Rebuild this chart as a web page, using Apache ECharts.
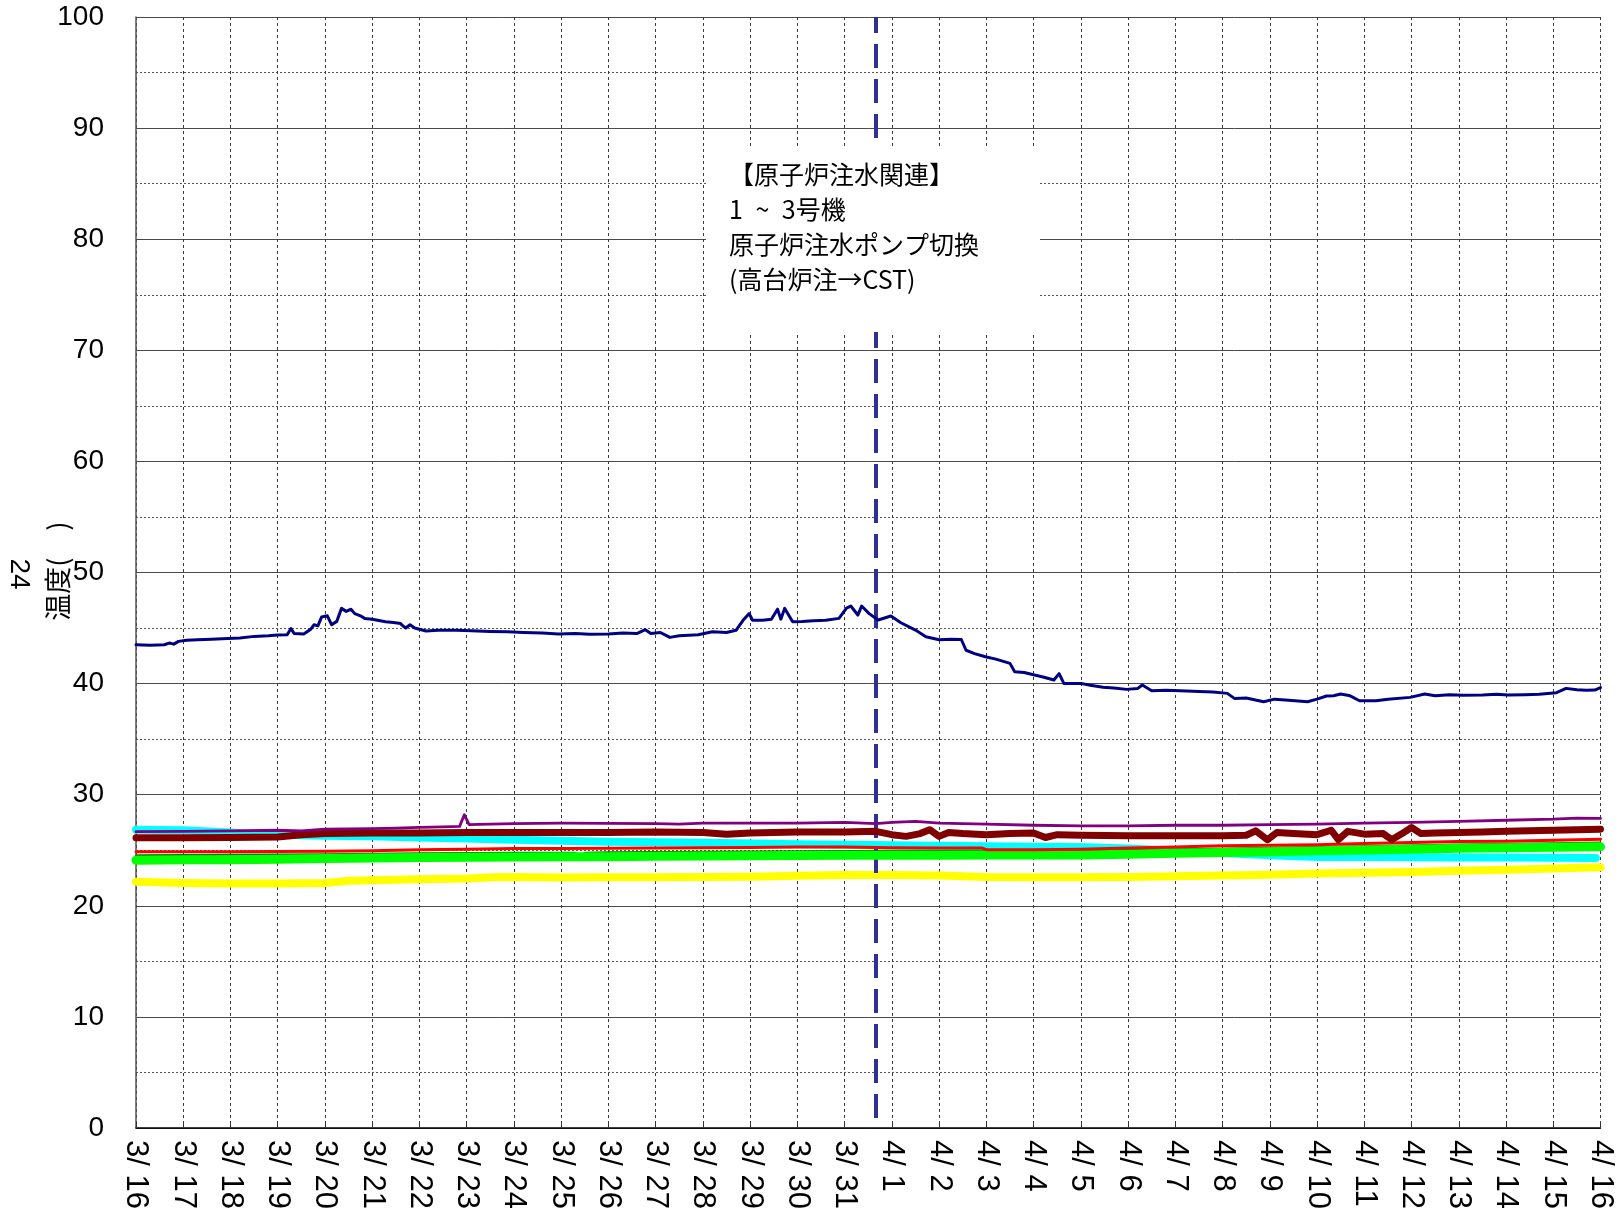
<!DOCTYPE html>
<html>
<head>
<meta charset="utf-8">
<script src="https://cdn.jsdelivr.net/npm/echarts@6/dist/echarts.min.js"></script>
<style>
html,body{margin:0;padding:0;background:#fff;}
#chart{width:1616px;height:1212px;}
</style>
</head>
<body>
<div id="chart"></div>
<script>
// x positions are days after 3/16 (0 = 3/16, 31 = 4/16)
const xTickLabels = ["3/ 16","3/ 17","3/ 18","3/ 19","3/ 20","3/ 21","3/ 22","3/ 23","3/ 24","3/ 25","3/ 26","3/ 27","3/ 28","3/ 29","3/ 30","3/ 31","4/ 1","4/ 2","4/ 3","4/ 4","4/ 5","4/ 6","4/ 7","4/ 8","4/ 9","4/ 10","4/ 11","4/ 12","4/ 13","4/ 14","4/ 15","4/ 16"];
const yMin = 0, yMax = 100, yStep = 10;

const eventDay = 15.66;
const eventLineBottom = 0.9;
const annotationLines = ["【原子炉注水関連】", "1\u2002~\u20023号機", "原子炉注水ポンプ切換", "(高台炉注→CST)"];
const yTitle = "温度(　)";
const yTitleExtra = "24";

const navySeries = [[0,43.5],[0.3,43.45],[0.6,43.5],[0.7,43.65],[0.8,43.55],[0.9,43.8],[1.07,43.9],[1.3,43.95],[1.6,44.0],[1.94,44.07],[2.2,44.1],[2.5,44.25],[2.8,44.3],[3.0,44.37],[3.2,44.4],[3.28,44.95],[3.35,44.5],[3.55,44.46],[3.7,44.9],[3.77,45.3],[3.85,45.2],[3.93,46.0],[4.05,46.1],[4.14,45.3],[4.25,45.6],[4.35,46.77],[4.45,46.5],[4.55,46.7],[4.63,46.3],[4.75,46.1],[4.84,45.87],[5.0,45.8],[5.28,45.57],[5.45,45.5],[5.6,45.4],[5.65,45.2],[5.71,45.0],[5.8,45.3],[5.9,45.0],[6.14,44.73],[6.4,44.8],[6.78,44.8],[7.1,44.75],[7.5,44.7],[7.87,44.67],[8.2,44.6],[8.6,44.55],[8.94,44.46],[9.3,44.5],[9.6,44.45],[10.0,44.46],[10.3,44.55],[10.6,44.5],[10.78,44.85],[10.9,44.5],[11.1,44.6],[11.3,44.16],[11.5,44.3],[11.9,44.4],[12.2,44.67],[12.5,44.6],[12.7,44.8],[12.85,45.7],[12.98,46.3],[13.05,45.7],[13.26,45.7],[13.45,45.8],[13.58,46.7],[13.65,45.8],[13.73,46.77],[13.9,45.57],[14.1,45.6],[14.34,45.66],[14.6,45.7],[14.88,45.87],[15.04,46.8],[15.13,46.98],[15.28,46.17],[15.36,46.98],[15.52,46.3],[15.71,45.72],[15.98,46.08],[16.19,45.48],[16.5,44.82],[16.72,44.22],[17.0,43.95],[17.25,44.0],[17.47,43.97],[17.57,43.0],[17.75,42.7],[17.98,42.42],[18.2,42.2],[18.5,41.82],[18.6,41.07],[18.8,41.0],[19.02,40.77],[19.2,40.6],[19.43,40.32],[19.54,40.9],[19.64,40.02],[20.0,40.02],[20.2,39.85],[20.47,39.67],[20.7,39.6],[20.97,39.48],[21.2,39.55],[21.3,39.87],[21.5,39.36],[21.8,39.4],[22.1,39.36],[22.5,39.3],[22.8,39.25],[23.1,39.12],[23.25,38.67],[23.5,38.7],[23.87,38.37],[24.1,38.6],[24.4,38.5],[24.8,38.37],[25.0,38.6],[25.2,38.88],[25.35,38.9],[25.5,39.06],[25.7,38.9],[25.9,38.46],[26.25,38.46],[26.5,38.6],[26.97,38.76],[27.28,39.06],[27.5,38.9],[27.8,39.0],[28.1,38.95],[28.5,38.97],[28.8,39.05],[29.04,38.97],[29.4,39.0],[29.7,39.05],[30.07,39.18],[30.27,39.57],[30.5,39.45],[30.7,39.4],[30.88,39.42],[31.0,39.64]];

const purpleSeries = [[0,26.67],[1,26.7],[2,26.75],[3,26.8],[3.5,26.75],[4,26.9],[5,26.95],[5.5,27.0],[6,27.05],[6.5,27.1],[6.85,27.15],[6.95,28.2],[7.05,27.3],[7.5,27.35],[8,27.4],[9,27.45],[10,27.42],[11,27.4],[11.5,27.35],[12,27.45],[13,27.45],[14,27.45],[15,27.5],[15.66,27.4],[16,27.5],[16.5,27.6],[17,27.45],[18,27.35],[19,27.25],[20,27.2],[21,27.2],[22,27.25],[23,27.25],[24,27.3],[25,27.35],[26,27.45],[27,27.5],[28,27.6],[29,27.7],[30,27.8],[30.5,27.9],[31,27.87]];

const maroonSeries = [[0,26.13],[1,26.13],[2,26.15],[3,26.2],[3.5,26.4],[4,26.5],[5,26.55],[6,26.55],[7,26.6],[8,26.6],[9,26.6],[10,26.6],[11,26.65],[12,26.6],[12.5,26.45],[13,26.55],[14,26.65],[15,26.65],[15.66,26.7],[16,26.4],[16.3,26.25],[16.6,26.5],[16.8,26.85],[17,26.25],[17.2,26.6],[17.5,26.5],[18,26.4],[18.5,26.5],[19,26.55],[19.25,26.15],[19.5,26.4],[20,26.35],[21,26.3],[22,26.3],[23,26.3],[23.5,26.35],[23.7,26.75],[23.95,25.95],[24.15,26.6],[24.5,26.5],[25,26.4],[25.3,26.8],[25.45,25.95],[25.65,26.7],[26,26.45],[26.4,26.5],[26.58,25.95],[26.8,26.5],[27.0,27.05],[27.2,26.5],[27.5,26.55],[28,26.6],[28.5,26.65],[29,26.7],[30,26.8],[31,26.9]];

const cyanSeries = [[0,26.85],[1,26.8],[2,26.6],[2.8,26.4],[3.5,26.35],[4,26.3],[5,26.25],[6,26.15],[7,26.05],[8,25.95],[9,25.85],[10,25.77],[11,25.72],[12,25.68],[13,25.6],[14,25.55],[15,25.5],[16,25.45],[17,25.4],[18,25.35],[19,25.32],[20,25.3],[21,25.15],[22,24.95],[23,24.75],[24,24.55],[25,24.4],[26,24.4],[27,24.38],[28,24.35],[29,24.35],[30,24.33],[30.9,24.3]];

const redSeries = [[0,24.87],[2,24.87],[4,24.9],[5,24.95],[6,25.05],[7,25.1],[8,25.15],[9,25.15],[10,25.17],[11,25.2],[12,25.22],[13,25.25],[14,25.3],[15,25.3],[16,25.22],[17,25.2],[17.9,25.2],[18,25.05],[19,25.05],[20,25.1],[21,25.2],[22,25.3],[23,25.4],[24,25.45],[25,25.5],[26,25.6],[27,25.7],[28,25.78],[29,25.82],[30,25.9],[31,26.0]];

const darkGreenSeries = [[0,24.55],[2,24.6],[4,24.65],[6,24.72],[8,24.78],[9.3,24.78],[9.4,24.35],[9.5,24.78],[10,24.82],[12,24.87],[14,24.92],[16,24.95],[18,24.95],[20,24.97],[22,25.07],[24,25.22],[26,25.37],[28,25.52],[30,25.64],[31,25.7]];

const limeSeries = [[0,24.1],[1,24.15],[2,24.15],[3,24.2],[4,24.25],[5,24.3],[6,24.35],[7,24.38],[8,24.4],[9,24.42],[10,24.42],[11,24.45],[12,24.48],[13,24.5],[14,24.52],[15,24.55],[16,24.55],[17,24.55],[18,24.57],[19,24.57],[20,24.57],[21,24.65],[22,24.72],[23,24.8],[24,24.87],[25,24.95],[26,25.02],[27,25.1],[28,25.17],[29,25.22],[30,25.28],[31,25.32]];

const yellowSeries = [[0,22.17],[1,22.05],[2,22.0],[3,22.0],[4,22.05],[4.5,22.25],[5,22.3],[6,22.4],[7,22.45],[7.7,22.6],[9,22.55],[10,22.56],[11,22.58],[12,22.6],[13,22.62],[14,22.7],[15,22.77],[16,22.77],[17,22.72],[18,22.6],[19,22.58],[20,22.56],[21,22.6],[22,22.65],[23,22.72],[24,22.8],[25,22.9],[26,22.98],[27,23.05],[28,23.16],[29,23.25],[30,23.35],[31,23.46]];

function lineSeries(name, data, color, width, z) {
  return {
    name: name, type: 'line', data: data, z: z,
    symbol: 'none', showSymbol: false, smooth: false,
    lineStyle: { color: color, width: width, cap: 'round', join: 'round' },
    itemStyle: { color: color },
    animation: false, silent: true
  };
}

const chart = echarts.init(document.getElementById('chart'), null, { renderer: 'canvas' });

const navy = lineSeries('navy', navySeries, '#000080', 3, 10);
navy.markLine = {
  silent: true, symbol: ['none', 'none'], animation: false,
  label: { show: false },
  lineStyle: { color: '#2E3192', width: 4, type: [24, 11] },
  data: [[{ coord: [eventDay, eventLineBottom] }, { coord: [eventDay, yMax] }]]
};

const option = {
  backgroundColor: '#ffffff',
  animation: false,
  grid: { left: 136, right: 13, top: 17, bottom: 84, containLabel: false },
  xAxis: {
    type: 'value', min: 0, max: xTickLabels.length - 1, interval: 1,
    axisLine: { show: true, lineStyle: { color: '#000', width: 1.5 } },
    axisTick: { show: true, inside: true, length: 6, lineStyle: { color: '#333' } },
    axisLabel: {
      show: true, rotate: -90, margin: 12, color: '#000',
      fontFamily: 'Liberation Sans', fontSize: 31,
      formatter: function (v) { return xTickLabels[Math.round(v)] || ''; }
    },
    splitLine: { show: true, lineStyle: { color: '#3a3a3a', width: 1, type: [3, 3] } }
  },
  yAxis: {
    type: 'value', min: yMin, max: yMax, interval: yStep,
    axisLine: { show: true, lineStyle: { color: '#555', width: 1.5 } },
    axisTick: { show: false },
    axisLabel: { show: true, margin: 32, color: '#000', fontFamily: 'Liberation Sans', fontSize: 28 },
    splitLine: { show: true, lineStyle: { color: '#4a4a4a', width: 1, type: 'solid' } },
    minorTick: { show: false, splitNumber: 2 },
    minorSplitLine: { show: true, lineStyle: { color: '#555', width: 1, type: [2, 2] } }
  },
  series: [
    lineSeries('cyan', cyanSeries, '#00FFFF', 8, 2),
    lineSeries('yellow', yellowSeries, '#FFFF00', 8, 3),
    lineSeries('darkgreen', darkGreenSeries, '#008000', 2, 4),
    lineSeries('lime', limeSeries, '#00FF00', 9, 5),
    lineSeries('red', redSeries, '#FF0000', 3, 6),
    lineSeries('maroon', maroonSeries, '#800000', 7, 7),
    lineSeries('purple', purpleSeries, '#800080', 2.8, 8),
    navy
  ],
  graphic: {
    z: 100,
    elements: [
      { type: 'rect', z: 100, silent: true, shape: { x: 706, y: 147, width: 334, height: 185 }, style: { fill: '#ffffff' } },
      { type: 'text', z: 101, silent: true, x: 729, y: 157,
        style: { text: annotationLines.join('\n'), fill: '#000', font: '25px "Noto Sans CJK JP"', lineHeight: 35, textVerticalAlign: 'top', textAlign: 'left' } },
      { type: 'text', z: 101, silent: true, x: 58, y: 571, rotation: Math.PI / 2,
        style: { text: yTitle, fill: '#000', font: '27px "Noto Sans CJK JP"', textAlign: 'center', textVerticalAlign: 'middle' } },
      { type: 'text', z: 101, silent: true, x: 19, y: 574, rotation: -Math.PI / 2,
        style: { text: yTitleExtra, fill: '#000', font: '28px "Liberation Sans"', textAlign: 'center', textVerticalAlign: 'middle' } }
    ]
  }
};
chart.setOption(option);
</script>
</body>
</html>
